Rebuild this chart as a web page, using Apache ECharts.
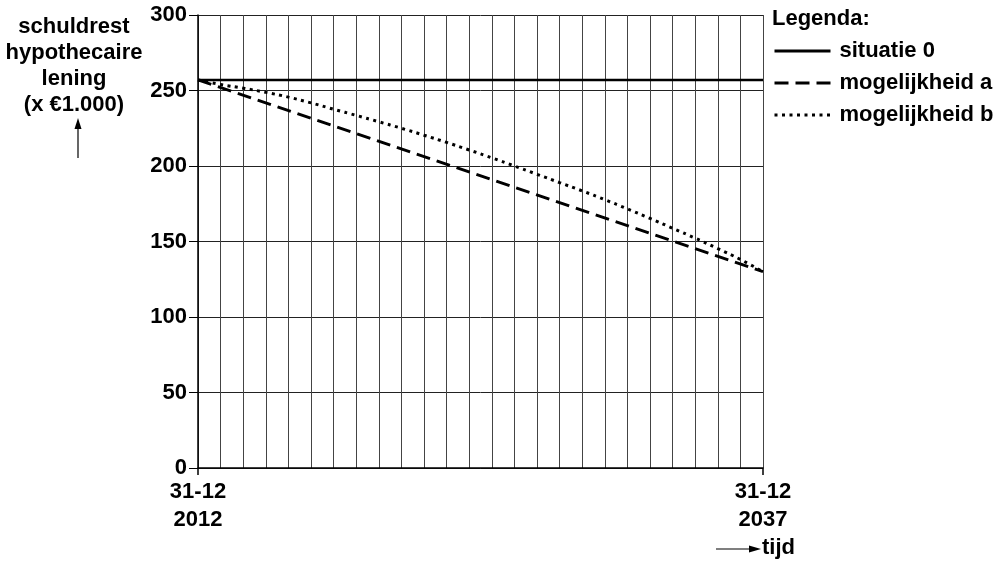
<!DOCTYPE html>
<html>
<head>
<meta charset="utf-8">
<script src="https://cdn.jsdelivr.net/npm/echarts@6/dist/echarts.min.js"></script>
<style>
  html, body { margin: 0; padding: 0; background: #fff; }
  #chart { width: 998px; height: 562px; }
</style>
</head>
<body>
<div id="chart"></div>
<script>
// jaren op de x-as
let years = [2012, 2013, 2014, 2015, 2016, 2017, 2018, 2019, 2020, 2021, 2022, 2023, 2024,
  2025, 2026, 2027, 2028, 2029, 2030, 2031, 2032, 2033, 2034, 2035, 2036, 2037]
// situatie 0: schuld blijft gelijk
let situatie0 = [[2012, 257], [2037, 257]]
// mogelijkheid a: lineair
let mogelijkheidA = [[2012, 257], [2037, 130]]
let mogelijkheidB = [257, 254, 251.5, 248.8, 245.6, 241.8, 237.6, 233.5, 229.3, 225, 220.4, 215.6,
  210.6, 205.4, 200, 194.5, 189, 183.5, 177.7, 171.6, 165.3, 158.8, 152.2, 145.3, 138.1, 130]
let yTicks = [0, 50, 100, 150, 200, 250, 300]
let xLabels = {2012: "31-12\n2012", 2037: "31-12\n2037"}

let font = "'Liberation Sans', Arial, sans-serif"
let myChart = echarts.init(document.getElementById("chart"))

myChart.setOption({
  animation: false,
  textStyle: { fontFamily: font },
  grid: { left: 198, right: 235, top: 15, bottom: 94 },
  legend: {
    orient: "vertical",
    left: 768,
    top: 35,
    itemWidth: 56,
    itemHeight: 14,
    itemGap: 10,
    itemStyle: { opacity: 0 },
    lineStyle: { width: 3 },
    textStyle: { fontSize: 22, fontWeight: "bold", color: "#000", fontFamily: font, padding: [0, 0, 0, 4] },
    data: ["situatie 0", "mogelijkheid a", "mogelijkheid b"]
  },
  xAxis: [
    {
      type: "value",
      min: years[0],
      max: years[years.length - 1],
      interval: 1,
      axisLine: { show: true, lineStyle: { color: "#000", width: 1.5 } },
      axisTick: { show: false },
      axisLabel: { show: false },
      splitLine: { show: true, lineStyle: { color: "#444", width: 1 } }
    },
    {
      type: "value",
      position: "bottom",
      min: years[0],
      max: years[years.length - 1],
      interval: 25,
      axisLine: { show: false },
      axisTick: { show: true, length: 7, lineStyle: { color: "#000", width: 1.5 } },
      axisLabel: {
        show: true,
        margin: 10,
        fontSize: 22,
        fontWeight: "bold",
        color: "#000",
        lineHeight: 28,
        fontFamily: font,
        formatter: (v) => xLabels[v] || ""
      },
      splitLine: { show: false }
    }
  ],
  yAxis: {
    type: "value",
    min: yTicks[0],
    max: yTicks[yTicks.length - 1],
    interval: 50,
    axisLine: { show: true, lineStyle: { color: "#000", width: 1.5 } },
    axisTick: { show: true, length: 9, lineStyle: { color: "#000" } },
    axisLabel: { fontSize: 22, fontWeight: "bold", color: "#000", margin: 11, fontFamily: font },
    splitLine: { show: true, lineStyle: { color: "#222", width: 1 } }
  },
  series: [
    {
      name: "situatie 0",
      type: "line",
      data: situatie0,
      symbol: "none",
      lineStyle: { color: "#000", width: 2.5, type: "solid" },
      itemStyle: { color: "#000" }
    },
    {
      name: "mogelijkheid a",
      type: "line",
      data: mogelijkheidA,
      symbol: "none",
      lineStyle: { color: "#000", width: 3, type: [14, 7] },
      itemStyle: { color: "#000" }
    },
    {
      name: "mogelijkheid b",
      type: "line",
      data: years.map((y, i) => [y, mogelijkheidB[i]]),
      symbol: "none",
      smooth: true,
      lineStyle: { color: "#000", width: 3, type: [3, 4.5] },
      itemStyle: { color: "#000" }
    }
  ],
  graphic: [
    {
      type: "text",
      left: 772,
      top: 8,
      style: { text: "Legenda:", font: "bold 22px " + font, fill: "#000" }
    },
    {
      type: "text",
      x: 74,
      y: 14,
      style: {
        text: "schuldrest\nhypothecaire\nlening\n(x €1.000)",
        font: "bold 22px " + font,
        lineHeight: 26,
        align: "center",
        fill: "#000"
      }
    },
    { type: "line", shape: { x1: 78, y1: 158, x2: 78, y2: 124 }, style: { stroke: "#000", lineWidth: 1.2 } },
    { type: "polygon", shape: { points: [[78, 118], [74.5, 129], [81.5, 129]] }, style: { fill: "#000" } },
    { type: "line", shape: { x1: 716, y1: 549, x2: 752, y2: 549 }, style: { stroke: "#000", lineWidth: 1.2 } },
    { type: "polygon", shape: { points: [[761, 549], [749, 545.5], [749, 552.5]] }, style: { fill: "#000" } },
    {
      type: "text",
      x: 762,
      y: 537,
      style: { text: "tijd", font: "bold 22px " + font, fill: "#000" }
    }
  ]
})
</script>
</body>
</html>
